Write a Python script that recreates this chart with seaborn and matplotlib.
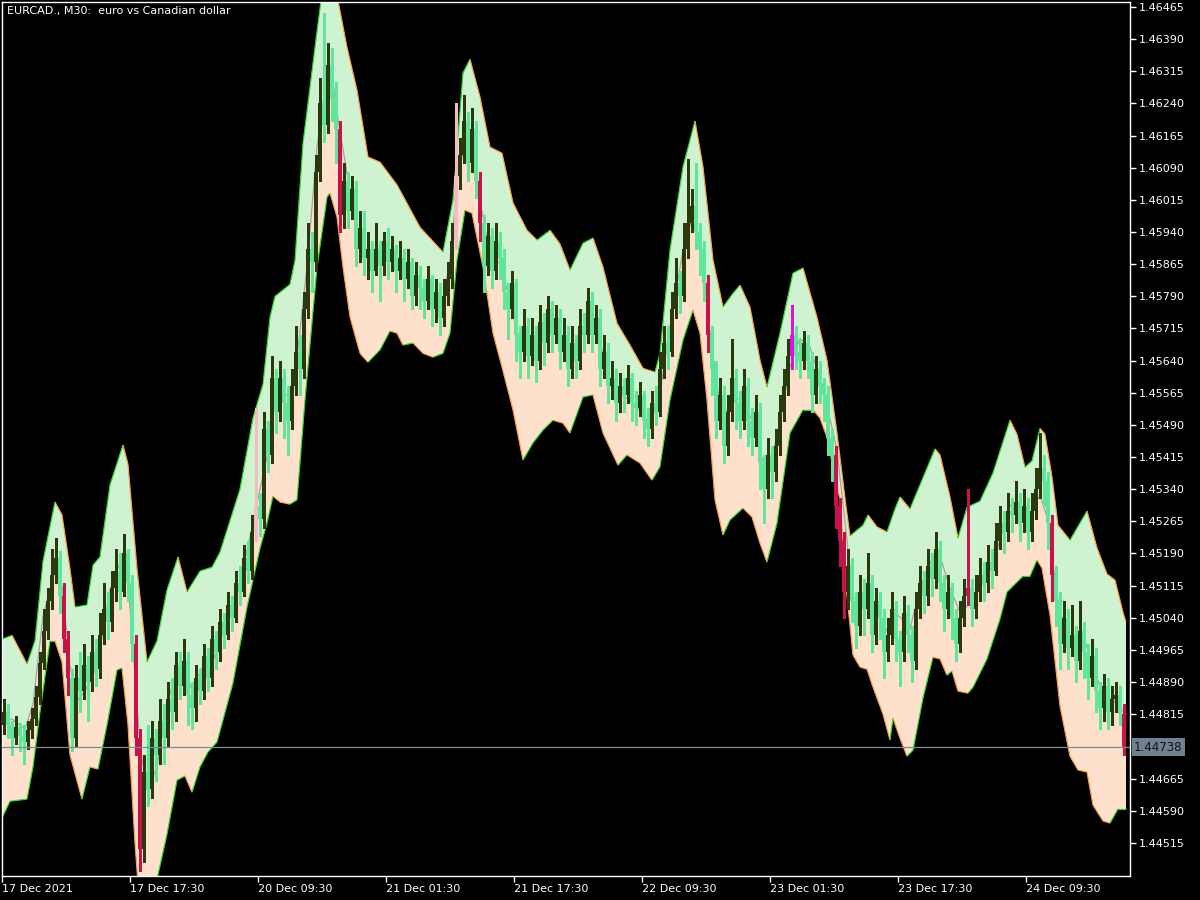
import numpy as np
import pandas as pd
import matplotlib
matplotlib.use("Agg")
import matplotlib.pyplot as plt
import matplotlib.transforms as mtransforms
from matplotlib.collections import LineCollection
import seaborn as sns

# ---------------- data (prices stored as points: price = 1.40000 + pts * 1e-5) ----------------
BASE = 1.40
PT = 1e-5

title = "EURCAD., M30:  euro vs Canadian dollar"
xtick_labels = ["17 Dec 2021", "17 Dec 17:30", "20 Dec 09:30", "21 Dec 01:30", "21 Dec 17:30",
                "22 Dec 09:30", "23 Dec 01:30", "23 Dec 17:30", "24 Dec 09:30"]
xtick_bars = [0, 32, 64, 96, 128, 160, 192, 224, 256]
ytick_labels = ["1.46465", "1.46390", "1.46315", "1.46240", "1.46165", "1.46090", "1.46015",
                "1.45940", "1.45865", "1.45790", "1.45715", "1.45640", "1.45565", "1.45490",
                "1.45415", "1.45340", "1.45265", "1.45190", "1.45115", "1.45040", "1.44965",
                "1.44890", "1.44815", "1.44665", "1.44590", "1.44515"]
last_price_label = "1.44738"

open_pts = [
    4790, 4820, 4790, 4760, 4785, 4765, 4750, 4778, 4805, 4855,
    4935, 5010, 5080, 5140, 5180, 5090, 4990, 4900, 4760, 4900,
    4870, 4930, 4890, 4960, 4920, 5000, 5060, 5030, 5110, 5150,
    5100, 5190, 5120, 4980, 4760, 4500, 4680, 4640, 4760, 4720,
    4800, 4760, 4850, 4820, 4930, 4880, 4940, 4860, 4830, 4900,
    4870, 4950, 4900, 4990, 4960, 5030, 5000, 5070, 5040, 5120,
    5100, 5180, 5150, 5240, 5300, 5270, 5480, 5420, 5600, 5520,
    5600, 5540, 5500, 5580, 5660, 5620, 5760, 5900, 5870, 6080,
    6240, 6190, 6330, 6250, 6180, 5980, 6060, 5990, 6040, 5900,
    5950, 5880, 5900, 5850, 5900, 5860, 5920, 5870, 5900, 5850,
    5880, 5830, 5870, 5790, 5840, 5810, 5780, 5830, 5760, 5800,
    5740, 5790, 5830, 5920, 6070, 6120, 6200, 6100, 6180, 6060,
    5960, 5860, 5930, 5850, 5920, 5880, 5800, 5760, 5820, 5700,
    5660, 5720, 5650, 5700, 5640, 5730, 5680, 5760, 5700, 5740,
    5660, 5700, 5620, 5680, 5640, 5720, 5700, 5780, 5700, 5740,
    5620, 5660, 5580, 5600, 5540, 5580, 5560, 5600, 5540, 5530,
    5560, 5500, 5480, 5540, 5520, 5620, 5680, 5660, 5760, 5820,
    5790, 5900, 5960, 6000, 5940, 5900, 5820, 5700, 5620, 5500,
    5560, 5440, 5520, 5600, 5540, 5500, 5580, 5500, 5460, 5520,
    5400, 5340, 5420, 5380, 5440, 5520, 5580, 5650, 5700, 5660,
    5640, 5680, 5640, 5560, 5620, 5580, 5560, 5460, 5420, 5300,
    5220, 5100, 5160, 5080, 5020, 5100, 5060, 5120, 5000, 5080,
    5040, 4960, 5000, 5060, 4990, 4960, 5050, 5000, 4940, 5060,
    5120, 5090, 5160, 5130, 5200, 5120, 5060, 5100, 5040, 4980,
    5040, 5090, 5110, 5060, 5100, 5140, 5120, 5170, 5150, 5220,
    5260, 5240, 5290, 5280, 5310, 5260, 5300, 5240, 5290, 5340,
    5390, 5360, 5260, 5140, 5080, 4980, 5040, 4970, 5000, 4940,
    5010, 4960, 4900, 4950, 4870, 4830, 4880, 4820, 4850, 4860,
    4815]

high_pts = [
    4850, 4840, 4800, 4810, 4795, 4790, 4800, 4830, 4880, 4960,
    5060, 5110, 5200, 5225, 5195, 5120, 5010, 4920, 4930, 4960,
    4980, 4950, 5000, 4990, 5050, 5120, 5100, 5150, 5200, 5190,
    5235, 5200, 5140, 5000, 4780, 4720, 4790, 4800, 4780, 4850,
    4840, 4890, 4900, 4960, 4960, 4990, 4960, 4890, 4930, 4920,
    4980, 4970, 5020, 5010, 5060, 5050, 5100, 5090, 5150, 5160,
    5210, 5220, 5280, 5530, 5330, 5520, 5500, 5650, 5620, 5640,
    5620, 5580, 5620, 5720, 5700, 5800, 5960, 5940, 6120, 6300,
    6450, 6380, 6370, 6290, 6200, 6100, 6080, 6070, 6060, 5990,
    5990, 5940, 5920, 5960, 5920, 5940, 5950, 5930, 5910, 5920,
    5900, 5900, 5880, 5870, 5860, 5830, 5860, 5840, 5830, 5820,
    5830, 5870, 5960, 6240, 6160, 6260, 6220, 6230, 6200, 6080,
    5980, 5960, 5950, 5960, 5940, 5900, 5820, 5850, 5830, 5720,
    5760, 5740, 5740, 5720, 5770, 5750, 5790, 5780, 5770, 5760,
    5740, 5720, 5720, 5700, 5760, 5750, 5810, 5800, 5770, 5760,
    5700, 5680, 5640, 5620, 5610, 5600, 5630, 5610, 5570, 5590,
    5570, 5530, 5570, 5580, 5660, 5720, 5720, 5800, 5880, 5850,
    5960, 6110, 6040, 6100, 5960, 5920, 5840, 5720, 5640, 5600,
    5580, 5560, 5690, 5620, 5570, 5620, 5600, 5530, 5560, 5540,
    5420, 5460, 5440, 5480, 5560, 5620, 5690, 5770, 5720, 5690,
    5710, 5700, 5660, 5650, 5640, 5600, 5580, 5480, 5440, 5320,
    5240, 5200, 5180, 5100, 5140, 5130, 5190, 5140, 5110, 5100,
    5060, 5040, 5100, 5080, 5010, 5090, 5070, 5020, 5100, 5160,
    5150, 5200, 5190, 5240, 5220, 5140, 5140, 5120, 5060, 5080,
    5130, 5340, 5130, 5140, 5180, 5170, 5210, 5200, 5260, 5300,
    5290, 5330, 5320, 5360, 5330, 5340, 5320, 5330, 5390, 5470,
    5420, 5380, 5280, 5160, 5100, 5080, 5060, 5070, 5020, 5080,
    5030, 4980, 4990, 4970, 4890, 4910, 4900, 4880, 4890, 4880,
    4840]

low_pts = [
    4770, 4760, 4720, 4745, 4730, 4700, 4735, 4760, 4790, 4840,
    4920, 4990, 5060, 5120, 5050, 4960, 4860, 4730, 4740, 4820,
    4850, 4800, 4870, 4880, 4900, 4980, 4990, 5010, 5080, 5060,
    5090, 5080, 4940, 4720, 4450, 4470, 4600, 4620, 4660, 4700,
    4700, 4740, 4780, 4800, 4850, 4860, 4790, 4780, 4800, 4840,
    4850, 4870, 4880, 4920, 4940, 4970, 4990, 5010, 5030, 5070,
    5090, 5120, 5130, 5220, 5230, 5250, 5380, 5400, 5470, 5500,
    5460, 5420, 5480, 5560, 5560, 5600, 5740, 5800, 5850, 6060,
    6150, 6170, 6200, 6100, 5940, 5950, 5950, 5970, 5860, 5870,
    5840, 5830, 5800, 5840, 5780, 5840, 5830, 5850, 5800, 5830,
    5780, 5810, 5760, 5770, 5760, 5740, 5760, 5720, 5730, 5700,
    5720, 5770, 5810, 5900, 6040, 6100, 6060, 6080, 6020, 5920,
    5800, 5840, 5810, 5830, 5830, 5760, 5690, 5740, 5640, 5600,
    5640, 5600, 5630, 5590, 5620, 5630, 5660, 5660, 5680, 5620,
    5640, 5580, 5600, 5600, 5620, 5660, 5680, 5660, 5680, 5580,
    5600, 5540, 5550, 5500, 5520, 5520, 5540, 5500, 5490, 5510,
    5460, 5440, 5460, 5490, 5510, 5600, 5620, 5650, 5740, 5750,
    5780, 5880, 5940, 5900, 5840, 5780, 5660, 5560, 5460, 5480,
    5400, 5420, 5500, 5480, 5460, 5480, 5440, 5420, 5440, 5340,
    5260, 5320, 5320, 5360, 5420, 5500, 5560, 5620, 5620, 5600,
    5620, 5600, 5520, 5540, 5540, 5500, 5420, 5360, 5250, 5160,
    5040, 5060, 5030, 4970, 5000, 5000, 5040, 4960, 4980, 4990,
    4900, 4940, 4980, 4940, 4880, 4940, 4960, 4890, 4920, 5040,
    5050, 5070, 5090, 5110, 5080, 5010, 5040, 4990, 4940, 4960,
    5020, 5070, 5020, 5040, 5080, 5080, 5100, 5110, 5140, 5200,
    5190, 5220, 5240, 5260, 5220, 5240, 5200, 5220, 5270, 5320,
    5300, 5200, 5080, 5020, 4920, 4960, 4920, 4950, 4890, 4920,
    4900, 4850, 4880, 4820, 4780, 4800, 4780, 4790, 4820, 4790,
    4720]

close_pts = [
    4820, 4790, 4760, 4785, 4765, 4750, 4778, 4805, 4855, 4935,
    5010, 5080, 5140, 5180, 5090, 4990, 4900, 4760, 4900, 4870,
    4930, 4890, 4960, 4920, 5000, 5060, 5030, 5110, 5150, 5100,
    5190, 5120, 4980, 4760, 4500, 4680, 4640, 4760, 4720, 4800,
    4760, 4850, 4820, 4930, 4880, 4940, 4860, 4830, 4900, 4870,
    4950, 4900, 4990, 4960, 5030, 5000, 5070, 5040, 5120, 5100,
    5180, 5150, 5240, 5300, 5270, 5480, 5420, 5600, 5520, 5600,
    5540, 5500, 5580, 5660, 5620, 5760, 5900, 5870, 6080, 6240,
    6190, 6330, 6250, 6180, 5980, 6060, 5990, 6040, 5900, 5950,
    5880, 5900, 5850, 5900, 5860, 5920, 5870, 5900, 5850, 5880,
    5830, 5870, 5790, 5840, 5810, 5780, 5830, 5760, 5800, 5740,
    5790, 5830, 5920, 6070, 6120, 6200, 6100, 6180, 6060, 5960,
    5860, 5930, 5850, 5920, 5880, 5800, 5760, 5820, 5700, 5660,
    5720, 5650, 5700, 5640, 5730, 5680, 5760, 5700, 5740, 5660,
    5700, 5620, 5680, 5640, 5720, 5700, 5780, 5700, 5740, 5620,
    5660, 5580, 5600, 5540, 5580, 5560, 5600, 5540, 5530, 5560,
    5500, 5480, 5540, 5520, 5620, 5680, 5660, 5760, 5820, 5790,
    5900, 5960, 6000, 5940, 5900, 5820, 5700, 5620, 5500, 5560,
    5440, 5520, 5600, 5540, 5500, 5580, 5500, 5460, 5520, 5400,
    5340, 5420, 5380, 5440, 5520, 5580, 5650, 5700, 5660, 5640,
    5680, 5640, 5560, 5620, 5580, 5560, 5460, 5420, 5300, 5220,
    5100, 5160, 5080, 5020, 5100, 5060, 5120, 5000, 5080, 5040,
    4960, 5000, 5060, 4990, 4960, 5050, 5000, 4940, 5060, 5120,
    5090, 5160, 5130, 5200, 5120, 5060, 5100, 5040, 4980, 5040,
    5090, 5110, 5060, 5100, 5140, 5120, 5170, 5150, 5220, 5260,
    5240, 5290, 5280, 5310, 5260, 5300, 5240, 5290, 5340, 5390,
    5360, 5260, 5140, 5080, 4980, 5040, 4970, 5000, 4940, 5010,
    4960, 4900, 4950, 4870, 4830, 4880, 4820, 4850, 4860, 4815,
    4738]

crimson_bars = [15, 16, 33, 34, 84, 119, 176, 208, 209, 210, 241, 262, 280]
pink_bars = [63, 113]
magenta_bars = [197]

upper_pos = [-0.5, 2, 5.75, 7.75, 9.75, 12.75, 14.5, 16.5, 17.75, 20.75, 22.25, 24, 26.5, 29.75, 31,
             33.25, 35.75, 38.25, 40.75, 43.5, 45.75, 49, 52, 54, 59, 62.25, 64.75, 66.5, 67.75, 71.5,
             72.75, 74.75, 77.75, 79.25, 80.5, 82, 83.5, 85.75, 88.25, 91, 94, 98.25, 104, 109.75,
             112.25, 114.75, 116.5, 119, 121.5, 124.5, 127.25, 130.75, 133.25, 136.5, 139, 141.5,
             144.75, 147.25, 149.75, 153.25, 156.5, 159.75, 162.75, 164, 166.5, 169.75, 172.75,
             174.75, 177.25, 179.75, 182.25, 184, 186.5, 189, 190.75, 194, 197.25, 199.75, 203.25,
             205.75, 208.25, 210.5, 211.5, 214.75, 216, 218.25, 220.75, 222.75, 224, 226.5, 229,
             232.75, 234, 236.5, 238.5, 240.75, 244, 247.25, 251.5, 253.25, 255.25, 257, 259,
             260.25, 262, 263.5, 266.5, 270.75, 273.25, 275.75, 277.75, 279.75, 280.5]
upper_pts = [4990, 4999, 4932, 4986, 5172, 5310, 5280, 5154, 5065, 5070, 5163, 5182, 5350, 5443, 5398,
             5154, 4937, 4986, 5105, 5182, 5100, 5149, 5158, 5193, 5340, 5506, 5585, 5741, 5790, 5818,
             5874, 6147, 6371, 6480, 6540, 6540, 6480, 6371, 6271, 6115, 6103, 6050, 5951, 5893,
             6015, 6311, 6343, 6255, 6138, 6124, 6008, 5944, 5921, 5944, 5912, 5851,
             5914, 5926, 5858, 5727, 5676, 5622, 5613, 5657, 5898, 6092, 6199,
             6092, 5875, 5765, 5797, 5816, 5765, 5641, 5578, 5704, 5844, 5856, 5741,
             5641, 5471, 5300, 5231, 5256, 5280, 5252, 5240, 5294, 5322, 5294, 5350,
             5434, 5420, 5322, 5226, 5298, 5312, 5378, 5501, 5468, 5391, 5406, 5482,
             5468, 5368, 5256, 5221, 5289, 5203, 5142, 5128, 5053, 5030]

mid_pos = [-0.5, 2, 5.25, 7.25, 9.75, 12.75, 14.5, 16.5, 18.5, 20.25, 23.25, 26.5, 29.5, 30.75, 32.25,
           34, 35.75, 38.25, 40.75, 43.25, 45.25, 47, 49.75, 52.25, 54.75, 59, 62.25, 65.75, 67.75,
           70.75, 72.25, 75.75, 78.25, 80.75, 82, 83.25, 85.75, 88.25, 90.75, 93.25, 96.5, 99, 101.5,
           104, 106.5, 109.5, 111.5, 113.5, 115.75, 117.25, 119, 121.5, 124, 126.5, 129, 132.25,
           134.75, 136.5, 139, 142.25, 144.75, 147.25, 149.75, 152.25, 154.75, 158.25, 161.5, 164,
           166.5, 169.75, 172.25, 174, 176.5, 179.5, 182, 184.5, 187, 189, 190.75, 193.25, 196.5,
           199, 201.5, 204.75, 208.25, 210.75, 212.25, 214.75, 216, 218.25, 221, 222.75, 224, 226.5,
           229, 232.75, 234, 236.5, 239, 240.75, 244, 247.25, 251.5, 254, 255.75, 259, 260.75,
           263.25, 265.75, 268.25, 270.25, 272.25, 274.75, 277.25, 279.5, 280.5]
mid_pts = [4794, 4804, 4780, 4839, 5044, 5149, 5114, 4927, 4848, 4869, 4927, 5105, 5182, 5154, 4967,
           4741, 4638, 4692, 4839, 4918, 4906, 4874, 4927, 4941, 5007, 5123, 5261, 5417, 5559,
           5559, 5564, 5858, 6138, 6306, 6306, 6217, 6077, 5951, 5881, 5881, 5891, 5875, 5835,
           5812, 5786, 5769, 5875, 6077, 6166, 6147, 6015, 5881, 5867, 5781, 5681, 5683,
           5695, 5723, 5704, 5657, 5718, 5741, 5657, 5571, 5560, 5532, 5490, 5564,
           5718, 5898, 5980, 5921, 5704, 5501, 5548, 5552, 5501, 5424, 5380, 5461, 5625,
           5692, 5671, 5578, 5431, 5221, 5086, 5081, 5100, 5063, 5004, 5049, 5042, 5014,
           5109, 5193, 5184, 5109, 5053, 5067, 5109, 5165, 5303, 5284, 5266, 5326, 5275,
           5091, 4990, 4981, 4986, 4925, 4860, 4848, 4825, 4815]

lower_pos = [-0.5, 1.5, 5.75, 7.25, 9, 11.5, 12.75, 14.5, 16.5, 19.5, 21.5, 23.5, 25.75, 28.25, 29.5,
             31, 32.75, 33.5, 36, 38, 40.75, 43.25, 45.25, 47, 49, 51, 53.25, 57.25, 60.75, 64,
             65.75, 67.25, 69, 71.5, 73.25, 75.25, 78.25, 80.75, 81.5, 83.25, 84.75, 86.5, 89, 91,
             94, 96.5, 98.25, 99.75, 102.25, 104.75, 107.25, 109.75, 111.5, 113.25, 115.25, 117,
             119.75, 122.25, 124.5, 127.25, 129.75, 132.25, 134.75, 137.25, 139.75, 141.5, 144.75,
             147.25, 149.75, 153.5, 155.75, 159, 162, 164, 166.5, 169.75, 172.25, 174, 175.75,
             177.75, 179.75, 181.5, 184.75, 187, 189, 190.75, 193.25, 196.5, 199.75, 202.25, 204,
             205.75, 209, 210.75, 212.25, 214, 215.75, 217.25, 219.75, 221.5, 222.25, 224, 225.75,
             227.25, 229.75, 232.25, 234, 235.75, 237, 238.5, 241, 242.25, 245.75, 249, 250.75,
             252.25, 254.75, 256.5, 258.25, 259.5, 261.5, 264, 266.5, 268.5, 270.75, 272.25,
             274.75, 276.5, 278.5, 280.5]
lower_pts = [4573, 4612, 4617, 4692, 4820, 4986, 4986, 4937, 4720, 4617, 4692, 4687, 4790, 4918, 4923,
             4790, 4514, 4420, 4380, 4420, 4535, 4661, 4671, 4633, 4692, 4727, 4750, 4888, 5065, 5202,
             5261, 5324, 5310, 5305, 5315, 5548, 5858, 6021, 6031, 5975, 5858, 5742, 5657, 5636,
             5665, 5709, 5704, 5676, 5681, 5657, 5648, 5657, 5704, 5875, 5991, 5984,
             5858, 5704, 5625, 5525, 5408, 5448, 5478, 5501, 5494, 5471, 5555,
             5560, 5471, 5396, 5420, 5401, 5361, 5392, 5548, 5688, 5758, 5704, 5548,
             5315, 5233, 5268, 5296, 5275, 5214, 5170, 5261, 5471, 5525, 5525, 5506,
             5461, 5315, 5091, 4953, 4925, 4920, 4878, 4815, 4755, 4806, 4759, 4717,
             4731, 4853, 4948, 4944, 4906, 4916, 4869, 4864, 4878, 4944, 5037, 5100,
             5114, 5137, 5137, 5175, 5156, 5046, 4834, 4717, 4685, 4680, 4603,
             4566, 4561, 4594, 4594]

# ---------------- helpers ----------------
def px(a):
    return BASE + np.asarray(a, dtype=float) * PT

o, h, l, c = px(open_pts), px(high_pts), px(low_pts), px(close_pts)
bars = np.arange(len(c))
up_y, mid_y, lo_y = px(upper_pts), px(mid_pts), px(lower_pts)

BULL = "#2a380c"
BEAR = "#5ee69c"
colors = np.where(c > o, BULL, BEAR).astype(object)
for b in crimson_bars:
    colors[b] = "#c8124a"
for b in pink_bars:
    colors[b] = "#f7b9c4"
for b in magenta_bars:
    colors[b] = "#e010e0"

# ---------------- figure ----------------
sns.set_theme(style="dark")
plt.rcParams["font.family"] = ["DejaVu Sans"]

fig = plt.figure(figsize=(12, 9), dpi=100, facecolor="black")
ax = fig.add_axes([2 / 1200, 24 / 900, 1128 / 1200, 874 / 900])
ax.set_facecolor("black")

# band fills
ax.fill(list(upper_pos) + list(mid_pos)[::-1], np.concatenate([up_y, mid_y[::-1]]),
        color="#cff3d1", lw=0, zorder=1)
ax.fill(list(mid_pos) + list(lower_pos)[::-1], np.concatenate([mid_y, lo_y[::-1]]),
        color="#fde1cd", lw=0, zorder=1)

# band edges coloured by slope
for pos, vals in ((upper_pos, up_y), (lower_pos, lo_y)):
    pts = np.column_stack([pos, vals])
    segs = np.stack([pts[:-1], pts[1:]], axis=1)
    cols = ["#2edc2e" if vals[k + 1] >= vals[k] else "#ff9f45" for k in range(len(vals) - 1)]
    ax.add_collection(LineCollection(segs, colors=cols, linewidths=0.85, zorder=2))

# middle line (seaborn)
mid_df = pd.DataFrame({"bar": mid_pos, "price": mid_y})
sns.lineplot(data=mid_df, x="bar", y="price", ax=ax, color="#a4a4a4", linewidth=0.9,
             sort=False, zorder=3)

# candles
ax.vlines(bars, l, h, colors=list(colors), linewidth=1.0, zorder=4, antialiased=False)
body_lo = np.minimum(o, c)
body_h = np.maximum(np.abs(c - o), 1.5 * PT)
ax.bar(bars, body_h, bottom=body_lo, width=0.78, color=list(colors), linewidth=0,
       zorder=5, antialiased=False)

# last price line and label
last_price = float(last_price_label)
ax.axhline(last_price, color="#7a8a9a", linewidth=0.9, zorder=6)
trans = mtransforms.blended_transform_factory(ax.transAxes, ax.transData)
ax.annotate(last_price_label, xy=(1.0, last_price), xycoords=trans, xytext=(3, 0),
            textcoords="offset points", ha="left", va="center", fontsize=8.5, color="#111111",
            bbox=dict(boxstyle="square,pad=0.2", facecolor="#6f8091", edgecolor="none"),
            zorder=10, annotation_clip=False)

# axes formatting
ax.set_xlim(-0.5, 281.5)
ax.set_ylim(BASE + 4437.6 * PT, BASE + 6476.6 * PT)
ax.set_xlabel("")
ax.set_ylabel("")
ax.grid(False)

ax.yaxis.tick_right()
ax.set_yticks([float(t) for t in ytick_labels])
ax.set_yticklabels(ytick_labels)
ax.set_xticks([b - 0.5 for b in xtick_bars])
ax.set_xticklabels(xtick_labels)
for lab in ax.get_xticklabels():
    lab.set_horizontalalignment("left")
ax.tick_params(axis="both", colors="white", labelcolor="white", labelsize=8, length=4,
               width=1, direction="out", pad=2)
ax.tick_params(axis="y", left=False, right=True)
ax.tick_params(axis="x", bottom=True)
for sp in ax.spines.values():
    sp.set_color("white")
    sp.set_linewidth(1)
    sp.set_visible(True)

ax.text(5 / 1128, 1 - 4 / 874, title, transform=ax.transAxes, ha="left", va="top",
        color="white", fontsize=8, zorder=11)

fig.savefig("out.png", dpi=100, facecolor="black")
